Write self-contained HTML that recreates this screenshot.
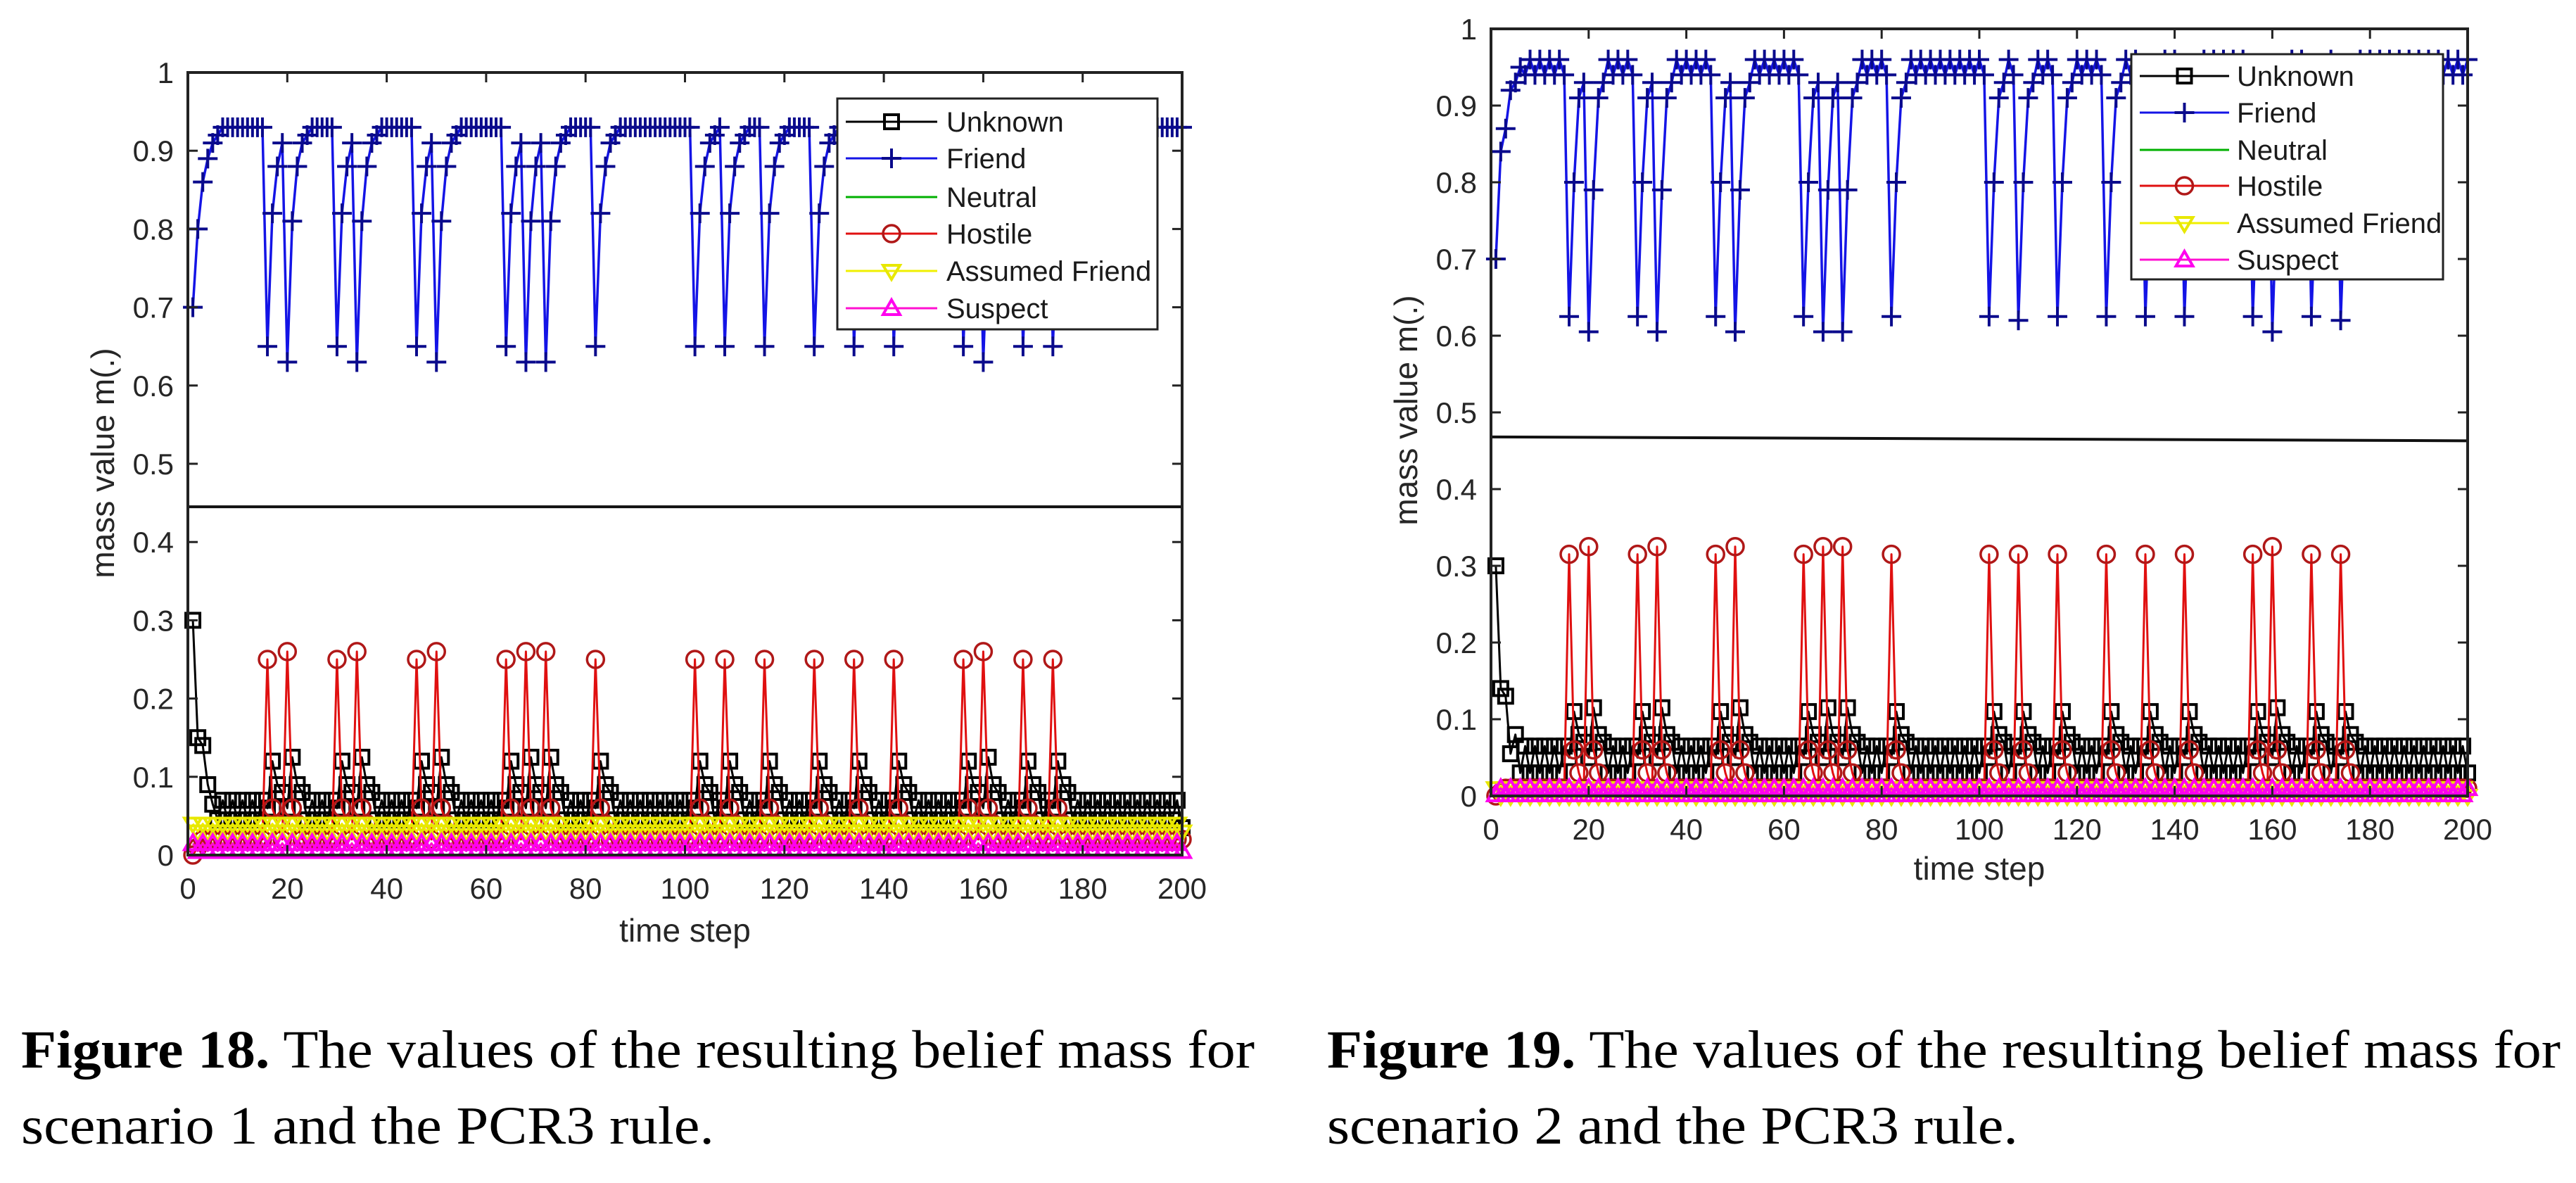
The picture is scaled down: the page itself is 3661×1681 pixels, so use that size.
<!DOCTYPE html>
<html><head><meta charset="utf-8"><style>
html,body{margin:0;padding:0;background:#fff;}
svg{display:block;}
</style></head><body>
<svg id="root" width="3661" height="1681" viewBox="0 0 3661 1681" xmlns="http://www.w3.org/2000/svg">
<g id="chart1"></g>
<g id="chart2"></g>
<g font-family="'Liberation Serif',serif" font-size="76" fill="#000">
<text x="30" y="1517" textLength="1753" lengthAdjust="spacingAndGlyphs"><tspan font-weight="bold">Figure 18.</tspan> The values of the resulting belief mass for</text>
<text x="30" y="1625" textLength="985" lengthAdjust="spacingAndGlyphs">scenario 1 and the PCR3 rule.</text>
</g>
<g font-family="'Liberation Serif',serif" font-size="76" fill="#000">
<text x="1886" y="1517" textLength="1753" lengthAdjust="spacingAndGlyphs"><tspan font-weight="bold">Figure 19.</tspan> The values of the resulting belief mass for</text>
<text x="1886" y="1625" textLength="982" lengthAdjust="spacingAndGlyphs">scenario 2 and the PCR3 rule.</text>
</g>
</svg>
<script>
// ---------- DATA (time steps 1..200) ----------
const xTicks = [0,20,40,60,80,100,120,140,160,180,200];
const yTicks = [0,0.1,0.2,0.3,0.4,0.5,0.6,0.7,0.8,0.9,1];
const yTickLabels = ["0","0.1","0.2","0.3","0.4","0.5","0.6","0.7","0.8","0.9","1"];
const seriesNames = ["Unknown","Friend","Neutral","Hostile","Assumed Friend","Suspect"];

const friend1 = [
.70,.80,.86,.89,.91,.92,.93,.93,.93,.93,.93,.93,.93,.93,.93,.65,.82,.88,.91,.63,
.81,.88,.91,.92,.93,.93,.93,.93,.93,.65,.82,.88,.91,.63,.81,.88,.91,.92,.93,.93,
.93,.93,.93,.93,.93,.65,.82,.88,.91,.63,.81,.88,.91,.92,.93,.93,.93,.93,.93,.93,
.93,.93,.93,.65,.82,.88,.91,.63,.81,.88,.91,.63,.81,.88,.91,.92,.93,.93,.93,.93,
.93,.65,.82,.88,.91,.92,.93,.93,.93,.93,.93,.93,.93,.93,.93,.93,.93,.93,.93,.93,
.93,.65,.82,.88,.91,.92,.93,.65,.82,.88,.91,.92,.93,.93,.93,.65,.82,.88,.91,.92,
.93,.93,.93,.93,.93,.65,.82,.88,.91,.92,.93,.93,.93,.65,.82,.88,.91,.92,.93,.93,
.93,.65,.82,.88,.91,.92,.93,.93,.93,.93,.93,.93,.93,.93,.93,.65,.82,.88,.91,.63,
.81,.88,.91,.92,.93,.93,.93,.65,.82,.88,.91,.92,.93,.65,.82,.88,.91,.92,.93,.93,
.93,.93,.93,.93,.93,.93,.93,.93,.93,.93,.93,.93,.93,.93,.93,.93,.93,.93,.93,.93];
const hostile1 = [
0,.01,.02,.02,.02,.02,.02,.02,.02,.02,.02,.02,.02,.02,.02,.25,.06,.04,.02,.26,
.06,.04,.02,.02,.02,.02,.02,.02,.02,.25,.06,.04,.02,.26,.06,.04,.02,.02,.02,.02,
.02,.02,.02,.02,.02,.25,.06,.04,.02,.26,.06,.04,.02,.02,.02,.02,.02,.02,.02,.02,
.02,.02,.02,.25,.06,.04,.02,.26,.06,.04,.02,.26,.06,.04,.02,.02,.02,.02,.02,.02,
.02,.25,.06,.04,.02,.02,.02,.02,.02,.02,.02,.02,.02,.02,.02,.02,.02,.02,.02,.02,
.02,.25,.06,.04,.02,.02,.02,.25,.06,.04,.02,.02,.02,.02,.02,.25,.06,.04,.02,.02,
.02,.02,.02,.02,.02,.25,.06,.04,.02,.02,.02,.02,.02,.25,.06,.04,.02,.02,.02,.02,
.02,.25,.06,.04,.02,.02,.02,.02,.02,.02,.02,.02,.02,.02,.02,.25,.06,.04,.02,.26,
.06,.04,.02,.02,.02,.02,.02,.25,.06,.04,.02,.02,.02,.25,.06,.04,.02,.02,.02,.02,
.02,.02,.02,.02,.02,.02,.02,.02,.02,.02,.02,.02,.02,.02,.02,.02,.02,.02,.02,.02];
const unknown1 = [
.30,.15,.14,.09,.065,.045,.07,.045,.07,.045,.07,.045,.07,.045,.07,.06,.12,.09,.08,.06,
.125,.09,.08,.045,.07,.045,.07,.045,.07,.06,.12,.09,.08,.06,.125,.09,.08,.045,.07,.045,
.07,.045,.07,.045,.07,.06,.12,.09,.08,.06,.125,.09,.08,.045,.07,.045,.07,.045,.07,.045,
.07,.045,.07,.06,.12,.09,.08,.06,.125,.09,.08,.06,.125,.09,.08,.045,.07,.045,.07,.045,
.07,.06,.12,.09,.08,.045,.07,.045,.07,.045,.07,.045,.07,.045,.07,.045,.07,.045,.07,.045,
.07,.06,.12,.09,.08,.045,.07,.06,.12,.09,.08,.045,.07,.045,.07,.06,.12,.09,.08,.045,
.07,.045,.07,.045,.07,.06,.12,.09,.08,.045,.07,.045,.07,.06,.12,.09,.08,.045,.07,.045,
.07,.06,.12,.09,.08,.045,.07,.045,.07,.045,.07,.045,.07,.045,.07,.06,.12,.09,.08,.06,
.125,.09,.08,.045,.07,.045,.07,.06,.12,.09,.08,.045,.07,.06,.12,.09,.08,.045,.07,.045,
.07,.045,.07,.045,.07,.045,.07,.045,.07,.045,.07,.045,.07,.045,.07,.045,.07,.045,.07,.035];
const assumed1 = [
.04,.03,.04,.03,.04,.03,.04,.03,.04,.03,.04,.03,.04,.03,.04,.03,.04,.03,.04,.03,
.04,.03,.04,.03,.04,.03,.04,.03,.04,.03,.04,.03,.04,.03,.04,.03,.04,.03,.04,.03,
.04,.03,.04,.03,.04,.03,.04,.03,.04,.03,.04,.03,.04,.03,.04,.03,.04,.03,.04,.03,
.04,.03,.04,.03,.04,.03,.04,.03,.04,.03,.04,.03,.04,.03,.04,.03,.04,.03,.04,.03,
.04,.03,.04,.03,.04,.03,.04,.03,.04,.03,.04,.03,.04,.03,.04,.03,.04,.03,.04,.03,
.04,.03,.04,.03,.04,.03,.04,.03,.04,.03,.04,.03,.04,.03,.04,.03,.04,.03,.04,.03,
.04,.03,.04,.03,.04,.03,.04,.03,.04,.03,.04,.03,.04,.03,.04,.03,.04,.03,.04,.03,
.04,.03,.04,.03,.04,.03,.04,.03,.04,.03,.04,.03,.04,.03,.04,.03,.04,.03,.04,.03,
.04,.03,.04,.03,.04,.03,.04,.03,.04,.03,.04,.03,.04,.03,.04,.03,.04,.03,.04,.03,
.04,.03,.04,.03,.04,.03,.04,.03,.04,.03,.04,.03,.04,.03,.04,.03,.04,.03,.04,.03];
const suspect1 = [
.015,.005,.015,.005,.015,.005,.015,.005,.015,.005,.015,.005,.015,.005,.015,.005,.015,.005,.015,.005,
.015,.005,.015,.005,.015,.005,.015,.005,.015,.005,.015,.005,.015,.005,.015,.005,.015,.005,.015,.005,
.015,.005,.015,.005,.015,.005,.015,.005,.015,.005,.015,.005,.015,.005,.015,.005,.015,.005,.015,.005,
.015,.005,.015,.005,.015,.005,.015,.005,.015,.005,.015,.005,.015,.005,.015,.005,.015,.005,.015,.005,
.015,.005,.015,.005,.015,.005,.015,.005,.015,.005,.015,.005,.015,.005,.015,.005,.015,.005,.015,.005,
.015,.005,.015,.005,.015,.005,.015,.005,.015,.005,.015,.005,.015,.005,.015,.005,.015,.005,.015,.005,
.015,.005,.015,.005,.015,.005,.015,.005,.015,.005,.015,.005,.015,.005,.015,.005,.015,.005,.015,.005,
.015,.005,.015,.005,.015,.005,.015,.005,.015,.005,.015,.005,.015,.005,.015,.005,.015,.005,.015,.005,
.015,.005,.015,.005,.015,.005,.015,.005,.015,.005,.015,.005,.015,.005,.015,.005,.015,.005,.015,.005,
.015,.005,.015,.005,.015,.005,.015,.005,.015,.005,.015,.005,.015,.005,.015,.005,.015,.005,.015,.005];
const neutral1 = [
0,0,0,0,0,0,0,0,0,0,0,0,0,0,0,0,0,0,0,0, 0,0,0,0,0,0,0,0,0,0,0,0,0,0,0,0,0,0,0,0,
0,0,0,0,0,0,0,0,0,0,0,0,0,0,0,0,0,0,0,0, 0,0,0,0,0,0,0,0,0,0,0,0,0,0,0,0,0,0,0,0,
0,0,0,0,0,0,0,0,0,0,0,0,0,0,0,0,0,0,0,0, 0,0,0,0,0,0,0,0,0,0,0,0,0,0,0,0,0,0,0,0,
0,0,0,0,0,0,0,0,0,0,0,0,0,0,0,0,0,0,0,0, 0,0,0,0,0,0,0,0,0,0,0,0,0,0,0,0,0,0,0,0,
0,0,0,0,0,0,0,0,0,0,0,0,0,0,0,0,0,0,0,0, 0,0,0,0,0,0,0,0,0,0,0,0,0,0,0,0,0,0,0,0];
const refLineX = [0,200];
const refLine1 = [0.445,0.445];

const friend2 = [
.70,.84,.87,.92,.93,.95,.94,.96,.94,.96,.94,.96,.94,.96,.94,.625,.80,.91,.93,.605,
.79,.91,.93,.96,.94,.96,.94,.96,.94,.625,.80,.91,.93,.605,.79,.91,.93,.96,.94,.96,
.94,.96,.94,.96,.94,.625,.80,.91,.93,.605,.79,.91,.93,.96,.94,.96,.94,.96,.94,.96,
.94,.96,.94,.625,.80,.91,.93,.605,.79,.91,.93,.605,.79,.91,.93,.96,.94,.96,.94,.96,
.94,.625,.80,.91,.93,.96,.94,.96,.94,.96,.94,.96,.94,.96,.94,.96,.94,.96,.94,.96,
.94,.625,.80,.91,.93,.96,.94,.62,.80,.91,.93,.96,.94,.96,.94,.625,.80,.91,.93,.96,
.94,.96,.94,.96,.94,.625,.80,.91,.93,.96,.94,.96,.94,.625,.80,.91,.93,.96,.94,.96,
.94,.625,.80,.91,.93,.96,.94,.96,.94,.96,.94,.96,.94,.96,.94,.625,.80,.91,.93,.605,
.79,.91,.93,.96,.94,.96,.94,.625,.80,.91,.93,.96,.94,.62,.80,.91,.93,.96,.94,.96,
.94,.96,.94,.96,.94,.96,.94,.96,.94,.96,.94,.96,.94,.96,.94,.96,.94,.96,.94,.96];
const hostile2 = [
0,.005,.01,.01,.01,.01,.01,.01,.01,.01,.01,.01,.01,.01,.01,.315,.06,.03,.01,.325,
.06,.03,.01,.01,.01,.01,.01,.01,.01,.315,.06,.03,.01,.325,.06,.03,.01,.01,.01,.01,
.01,.01,.01,.01,.01,.315,.06,.03,.01,.325,.06,.03,.01,.01,.01,.01,.01,.01,.01,.01,
.01,.01,.01,.315,.06,.03,.01,.325,.06,.03,.01,.325,.06,.03,.01,.01,.01,.01,.01,.01,
.01,.315,.06,.03,.01,.01,.01,.01,.01,.01,.01,.01,.01,.01,.01,.01,.01,.01,.01,.01,
.01,.315,.06,.03,.01,.01,.01,.315,.06,.03,.01,.01,.01,.01,.01,.315,.06,.03,.01,.01,
.01,.01,.01,.01,.01,.315,.06,.03,.01,.01,.01,.01,.01,.315,.06,.03,.01,.01,.01,.01,
.01,.315,.06,.03,.01,.01,.01,.01,.01,.01,.01,.01,.01,.01,.01,.315,.06,.03,.01,.325,
.06,.03,.01,.01,.01,.01,.01,.315,.06,.03,.01,.01,.01,.315,.06,.03,.01,.01,.01,.01,
.01,.01,.01,.01,.01,.01,.01,.01,.01,.01,.01,.01,.01,.01,.01,.01,.01,.01,.01,.01];
const unknown2 = [
.30,.14,.13,.055,.08,.03,.065,.03,.065,.03,.065,.03,.065,.03,.065,.05,.11,.08,.07,.05,
.115,.08,.07,.03,.065,.03,.065,.03,.065,.05,.11,.08,.07,.05,.115,.08,.07,.03,.065,.03,
.065,.03,.065,.03,.065,.05,.11,.08,.07,.05,.115,.08,.07,.03,.065,.03,.065,.03,.065,.03,
.065,.03,.065,.05,.11,.08,.07,.05,.115,.08,.07,.05,.115,.08,.07,.03,.065,.03,.065,.03,
.065,.05,.11,.08,.07,.03,.065,.03,.065,.03,.065,.03,.065,.03,.065,.03,.065,.03,.065,.03,
.065,.05,.11,.08,.07,.03,.065,.05,.11,.08,.07,.03,.065,.03,.065,.05,.11,.08,.07,.03,
.065,.03,.065,.03,.065,.05,.11,.08,.07,.03,.065,.03,.065,.05,.11,.08,.07,.03,.065,.03,
.065,.05,.11,.08,.07,.03,.065,.03,.065,.03,.065,.03,.065,.03,.065,.05,.11,.08,.07,.05,
.115,.08,.07,.03,.065,.03,.065,.05,.11,.08,.07,.03,.065,.05,.11,.08,.07,.03,.065,.03,
.065,.03,.065,.03,.065,.03,.065,.03,.065,.03,.065,.03,.065,.03,.065,.03,.065,.03,.065,.03];
const assumed2 = [
.01,0,.01,0,.01,0,.01,0,.01,0,.01,0,.01,0,.01,0,.01,0,.01,0, .01,0,.01,0,.01,0,.01,0,.01,0,.01,0,.01,0,.01,0,.01,0,.01,0,
.01,0,.01,0,.01,0,.01,0,.01,0,.01,0,.01,0,.01,0,.01,0,.01,0, .01,0,.01,0,.01,0,.01,0,.01,0,.01,0,.01,0,.01,0,.01,0,.01,0,
.01,0,.01,0,.01,0,.01,0,.01,0,.01,0,.01,0,.01,0,.01,0,.01,0, .01,0,.01,0,.01,0,.01,0,.01,0,.01,0,.01,0,.01,0,.01,0,.01,0,
.01,0,.01,0,.01,0,.01,0,.01,0,.01,0,.01,0,.01,0,.01,0,.01,0, .01,0,.01,0,.01,0,.01,0,.01,0,.01,0,.01,0,.01,0,.01,0,.01,0,
.01,0,.01,0,.01,0,.01,0,.01,0,.01,0,.01,0,.01,0,.01,0,.01,0, .01,0,.01,0,.01,0,.01,0,.01,0,.01,0,.01,0,.01,0,.01,0,.01,0];
const suspect2 = [
.002,.01,.002,.01,.002,.01,.002,.01,.002,.01,.002,.01,.002,.01,.002,.01,.002,.01,.002,.01,
.002,.01,.002,.01,.002,.01,.002,.01,.002,.01,.002,.01,.002,.01,.002,.01,.002,.01,.002,.01,
.002,.01,.002,.01,.002,.01,.002,.01,.002,.01,.002,.01,.002,.01,.002,.01,.002,.01,.002,.01,
.002,.01,.002,.01,.002,.01,.002,.01,.002,.01,.002,.01,.002,.01,.002,.01,.002,.01,.002,.01,
.002,.01,.002,.01,.002,.01,.002,.01,.002,.01,.002,.01,.002,.01,.002,.01,.002,.01,.002,.01,
.002,.01,.002,.01,.002,.01,.002,.01,.002,.01,.002,.01,.002,.01,.002,.01,.002,.01,.002,.01,
.002,.01,.002,.01,.002,.01,.002,.01,.002,.01,.002,.01,.002,.01,.002,.01,.002,.01,.002,.01,
.002,.01,.002,.01,.002,.01,.002,.01,.002,.01,.002,.01,.002,.01,.002,.01,.002,.01,.002,.01,
.002,.01,.002,.01,.002,.01,.002,.01,.002,.01,.002,.01,.002,.01,.002,.01,.002,.01,.002,.01,
.002,.01,.002,.01,.002,.01,.002,.01,.002,.01,.002,.01,.002,.01,.002,.01,.002,.01,.002,.01];
const neutral2 = neutral1;
const refLine2 = [0.468,0.463];

// ---------- RENDERING ----------
const NS = "http://www.w3.org/2000/svg";
function mk(tag, attrs, parent){
  const e = document.createElementNS(NS, tag);
  for (const k in attrs) e.setAttribute(k, attrs[k]);
  parent.appendChild(e);
  return e;
}
function marker(g, type, cx, cy, color){
  let m;
  if (type === "square") {
    m = mk("rect", {x:cx-10,y:cy-10,width:20,height:20,fill:"none",stroke:color,"stroke-width":4}, g);
  } else if (type === "plus") {
    m = mk("path", {d:`M${cx-14} ${cy}H${cx+14}M${cx} ${cy-14}V${cy+14}`,stroke:color,"stroke-width":4,fill:"none"}, g);
  } else if (type === "circle") {
    m = mk("circle", {cx:cx,cy:cy,r:12,fill:"none",stroke:color,"stroke-width":3.5}, g);
  } else if (type === "tridown") {
    m = mk("path", {d:`M${cx-12} ${cy-8}L${cx+12} ${cy-8}L${cx} ${cy+12}Z`,fill:"none",stroke:color,"stroke-width":4}, g);
  } else if (type === "triup") {
    m = mk("path", {d:`M${cx-12} ${cy+9}L${cx+12} ${cy+9}L${cx} ${cy-12}Z`,fill:"none",stroke:color,"stroke-width":4}, g);
  }
  if (m) {
    
    
  }
}

function drawChart(gid, cfg){
  const root = document.getElementById(gid);
  const X = t => cfg.x0 + (cfg.x1 - cfg.x0) * t / 200;
  const Y = v => cfg.y0 - (cfg.y0 - cfg.y1) * v;
  const plot = mk("g", {}, root);
  
  
  mk("rect", {x:cfg.x0,y:cfg.y1,width:cfg.x1-cfg.x0,height:cfg.y0-cfg.y1,fill:"#fff"}, plot);

  const ref = mk("line", {x1:X(refLineX[0]),y1:Y(cfg.ref[0]),x2:X(refLineX[1]),y2:Y(cfg.ref[1]),stroke:"#111","stroke-width":4}, plot);
  
  

  const series = [
    {name:"unknown", data:cfg.unknown, color:"#000", mcolor:"#000", m:"square", w:3},
    {name:"friend", data:cfg.friend, color:"#1414e6", mcolor:"#0a0a8c", m:"plus", w:3.5},
    {name:"neutral", data:cfg.neutral, color:"#00b000", mcolor:"#00b000", m:null, w:3},
    {name:"hostile", data:cfg.hostile, color:"#e01010", mcolor:"#b01818", m:"circle", w:3},
    {name:"assumed-friend", data:cfg.assumed, color:"#f0f000", mcolor:"#e8e800", m:"tridown", w:3},
    {name:"suspect", data:cfg.suspect, color:"#ff10d0", mcolor:"#ff00ee", m:"triup", w:3}
  ];
  series.forEach(s => {
    const g = mk("g", {}, plot);
    
    
    const pts = s.data.map((v,i) => X(i+1).toFixed(1) + "," + Y(v).toFixed(1)).join(" ");
    const pl = mk("polyline", {points:pts,fill:"none",stroke:s.color,"stroke-width":s.w,"stroke-linejoin":"round"}, g);
    
    
    if (s.m) s.data.forEach((v,i) => marker(g, s.m, X(i+1), Y(v), s.mcolor));
  });

  const box = mk("rect", {x:cfg.x0,y:cfg.y1,width:cfg.x1-cfg.x0,height:cfg.y0-cfg.y1,fill:"none",stroke:"#222","stroke-width":4}, root);
  
  

  const tf = "'Liberation Sans',Arial,sans-serif";
  const xa = mk("g", {}, root);
  
  
  xTicks.forEach(t => {
    const x = X(t);
    mk("line", {x1:x,y1:cfg.y0,x2:x,y2:cfg.y0-14,stroke:"#222","stroke-width":3}, xa);
    mk("line", {x1:x,y1:cfg.y1,x2:x,y2:cfg.y1+14,stroke:"#222","stroke-width":3}, xa);
    const tx = mk("text", {x:x,y:cfg.y0+62,"text-anchor":"middle","font-family":tf,"font-size":42,fill:"#262626"}, xa);
    tx.textContent = String(t);
    
    
  });
  const ya = mk("g", {}, root);
  
  
  yTicks.forEach((v,i) => {
    const y = Y(v);
    mk("line", {x1:cfg.x0,y1:y,x2:cfg.x0+14,y2:y,stroke:"#222","stroke-width":3}, ya);
    mk("line", {x1:cfg.x1,y1:y,x2:cfg.x1-14,y2:y,stroke:"#222","stroke-width":3}, ya);
    const tx = mk("text", {x:cfg.x0-20,y:y+15,"text-anchor":"end","font-family":tf,"font-size":42,fill:"#262626"}, ya);
    tx.textContent = yTickLabels[i];
    
    
  });
  const xl = mk("text", {x:(cfg.x0+cfg.x1)/2,y:cfg.xlabY,"text-anchor":"middle","font-family":tf,"font-size":46,fill:"#262626"}, root);
  xl.textContent = "time step";
  
  
  const yl = mk("text", {x:0,y:0,"text-anchor":"middle","font-family":tf,"font-size":46,fill:"#262626",transform:`translate(${cfg.ylabX},${cfg.ylabY}) rotate(-90)`}, root);
  yl.textContent = "mass value m(.)";
  
  

  const L = cfg.leg;
  const lg = mk("g", {}, root);
  
  
  mk("rect", {x:L.x,y:L.y,width:L.w,height:L.h,fill:"#fff",stroke:"#222","stroke-width":3}, lg);
  series.forEach((s,i) => {
    const cy = L.rows[i];
    const e = mk("g", {}, lg);
    
    
    mk("line", {x1:L.lx0,y1:cy,x2:L.lx1,y2:cy,stroke:s.color,"stroke-width":3}, e);
    if (s.m) marker(e, s.m, (L.lx0+L.lx1)/2, cy, s.mcolor);
    const t = mk("text", {x:L.tx,y:cy+14,"font-family":tf,"font-size":40,fill:"#1a1a1a"}, e);
    t.textContent = seriesNames[i];
  });
}

drawChart("chart1", {
  x0:267, x1:1680, y0:1215, y1:103,
  friend:friend1, hostile:hostile1, unknown:unknown1, assumed:assumed1, suspect:suspect1, neutral:neutral1, ref:refLine1,
  xlabY:1338, ylabX:162, ylabY:658,
  leg:{x:1190,y:140,w:455,h:328,rows:[173,225,280,332,385,438],lx0:1202,lx1:1332,tx:1345}
});
drawChart("chart2", {
  x0:2119, x1:3507, y0:1131, y1:41,
  friend:friend2, hostile:hostile2, unknown:unknown2, assumed:assumed2, suspect:suspect2, neutral:neutral2, ref:refLine2,
  xlabY:1250, ylabX:2014, ylabY:583,
  leg:{x:3029,y:77,w:443,h:320,rows:[108,160,213,264,317,369],lx0:3041,lx1:3168,tx:3179}
});
</script>
</body></html>
